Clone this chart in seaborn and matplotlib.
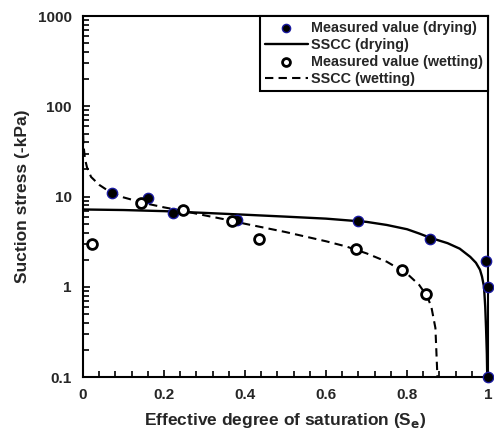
import numpy as np
import pandas as pd
import matplotlib.pyplot as plt
import matplotlib.ticker as mticker
import seaborn as sns

# measured points (drying)
dry_se = [0.072, 0.16, 0.222, 0.38, 0.68, 0.857, 0.995, 1.0, 1.0]
dry_ss = [11.0, 9.7, 6.6, 5.5, 5.4, 3.4, 1.95, 1.0, 0.1]

# measured points (wetting)
wet_se = [0.022, 0.143, 0.247, 0.368, 0.435, 0.674, 0.788, 0.847]
wet_ss = [3.0, 8.5, 7.1, 5.4, 3.4, 2.64, 1.54, 0.84]

# SSCC curves
dry_curve_se = [0.0, 0.1, 0.2, 0.3, 0.4, 0.5, 0.6, 0.7, 0.75, 0.8, 0.83,
                0.857, 0.9, 0.93, 0.956, 0.97, 0.98, 0.985, 0.99, 0.993,
                0.995, 0.997, 0.998]
dry_curve_ss = [7.2, 7.1, 6.9, 6.6, 6.3, 6.0, 5.7, 5.25, 4.85, 4.35, 3.9,
                3.5, 3.05, 2.65, 2.15, 1.85, 1.55, 1.3, 1.0, 0.6,
                0.35, 0.18, 0.1]

wet_curve_se = [0.0005, 0.001, 0.005, 0.01, 0.02, 0.04, 0.07, 0.1, 0.15, 0.2,
                0.25, 0.3, 0.35, 0.4, 0.45, 0.5, 0.55, 0.6, 0.65, 0.7, 0.75,
                0.8, 0.83, 0.85, 0.86, 0.87, 0.875]
wet_curve_ss = [48, 38, 26, 21, 16.5, 13.5, 11, 9.8, 8.5, 7.6,
                6.9, 6.2, 5.6, 5.0, 4.5, 4.05, 3.6, 3.2, 2.8, 2.35, 1.9,
                1.4, 1.05, 0.78, 0.6, 0.35, 0.1]

sns.set_style("ticks")
plt.rcParams['font.family'] = ['Liberation Sans', 'DejaVu Sans']
plt.rcParams['font.weight'] = 'bold'

fig = plt.figure(figsize=(4.94, 4.34), dpi=100)
ax = fig.add_axes([0.168, 0.131, 0.820, 0.832])

dry_curve = pd.DataFrame({"se": dry_curve_se, "ss": dry_curve_ss})
wet_curve = pd.DataFrame({"se": wet_curve_se, "ss": wet_curve_ss})
dry_pts = pd.DataFrame({"se": dry_se, "ss": dry_ss})
wet_pts = pd.DataFrame({"se": wet_se, "ss": wet_ss})

sns.lineplot(data=dry_curve, x="se", y="ss", sort=False, estimator=None,
             color="black", linewidth=1.7, ax=ax, label="SSCC (drying)")
sns.lineplot(data=wet_curve, x="se", y="ss", sort=False, estimator=None,
             color="black", linewidth=1.5, linestyle=(0, (4, 2.5)), ax=ax,
             label="SSCC (wetting)")
sns.scatterplot(data=dry_pts, x="se", y="ss", s=55, color="black",
                edgecolor="#1a1aa0", linewidth=1.0, ax=ax, zorder=5,
                clip_on=False, label="Measured value (drying)")
sns.scatterplot(data=wet_pts, x="se", y="ss", s=50, color="white",
                edgecolor="black", linewidth=2.0, ax=ax, zorder=5,
                label="Measured value (wetting)")

ax.set_yscale("log")
ax.set_xlim(0, 1)
ax.set_ylim(0.1, 1000)
ax.set_xticks([0, 0.2, 0.4, 0.6, 0.8, 1.0])
ax.set_xticklabels(["0", "0.2", "0.4", "0.6", "0.8", "1"])
ax.xaxis.set_minor_locator(mticker.MultipleLocator(0.04))
ax.set_yticks([0.1, 1, 10, 100, 1000])
ax.set_yticklabels(["0.1", "1", "10", "100", "1000"])
ax.yaxis.set_minor_locator(mticker.LogLocator(base=10, subs=np.arange(2, 10)))
ax.yaxis.set_minor_formatter(mticker.NullFormatter())

ax.tick_params(which="both", direction="in", color="black", width=1.2)
ax.tick_params(which="major", length=5, labelsize=11, pad=8)
ax.tick_params(which="minor", length=4)
for lab in ax.get_xticklabels() + ax.get_yticklabels():
    lab.set_fontweight("bold")
for sp in ax.spines.values():
    sp.set_color("black")
    sp.set_linewidth(1.5)
    sp.set_visible(True)

ax.set_xlabel("Effective degree of saturation (S$_\\mathbf{e}$)", fontsize=12.5,
              fontweight="bold", labelpad=6)
ax.set_ylabel("Suction stress (-kPa)", fontsize=12.5, fontweight="bold",
              labelpad=6)

handles, labels = ax.get_legend_handles_labels()
order = ["Measured value (drying)", "SSCC (drying)",
         "Measured value (wetting)", "SSCC (wetting)"]
hmap = dict(zip(labels, handles))
leg = ax.legend([hmap[k] for k in order], order, loc="upper right",
                borderaxespad=0, fancybox=False, framealpha=1,
                edgecolor="black", handlelength=3.0, markerscale=0.8,
                handletextpad=0.2, labelspacing=0.2, borderpad=0.35,
                prop={"weight": "bold", "size": 10.4})
leg.get_frame().set_linewidth(1.5)

fig.savefig("out.png", dpi=100)
